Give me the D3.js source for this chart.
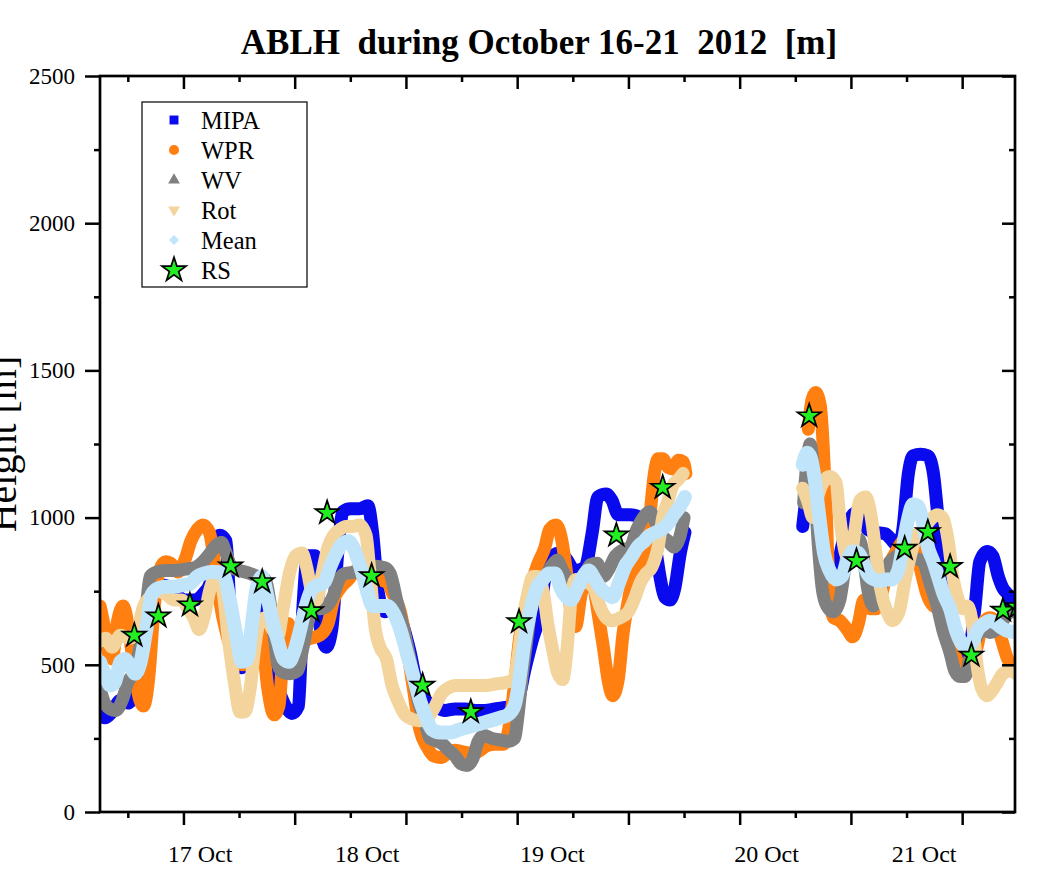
<!DOCTYPE html>
<html>
<head>
<meta charset="utf-8">
<title>ABLH during October 16-21 2012</title>
<script src="https://cdn.jsdelivr.net/npm/d3@7"></script>
<style>
  body { margin: 0; background: #fff; }
  svg text { font-family: "Liberation Serif", "Times New Roman", serif; fill: #000; }
</style>
</head>
<body>
<svg id="chart" width="1050" height="871"></svg>
<script>
// x: hours from the left edge of the plot, y: boundary layer height [m]
// [69, null] marks the data gap on 20 Oct
var mipa = [[0.0,330],[0.5,320],[1.3,340],[2.2,380],[3.0,370],[3.9,400],[4.6,420],[5.4,650],[6.0,760],[7.0,770],[8.1,740],[9.2,720],[10.2,720],[11.1,740],[11.9,780],[12.4,900],[12.9,940],[13.6,920],[14.0,700],[14.6,520],[15.3,490],[16.7,650],[17.5,700],[18.3,500],[19.2,420],[20.0,360],[20.7,335],[21.4,360],[21.9,700],[22.4,870],[23.2,870],[23.7,640],[24.4,560],[25.0,620],[25.7,900],[26.2,1020],[27.0,1030],[28.0,1030],[28.9,1040],[29.4,950],[30.0,750],[30.7,680],[31.5,700],[32.4,660],[33.4,550],[34.3,420],[35.1,380],[36.1,360],[37.2,345],[38.3,350],[39.4,350],[40.5,345],[41.5,345],[42.6,350],[43.7,355],[44.4,360],[45.1,380],[45.8,480],[46.6,580],[47.5,680],[48.1,820],[48.8,870],[49.6,880],[50.3,860],[51.2,820],[52.3,830],[53.1,950],[53.7,1070],[54.6,1080],[55.2,1060],[55.9,1010],[57.2,1010],[58.3,1000],[59.1,980],[59.9,900],[60.4,800],[60.9,730],[61.5,720],[62.0,760],[62.6,880],[63.1,950],
  [69,null],
  [75.8,970],[76.6,1120],[77.1,1100],[77.7,900],[78.2,800],[78.7,760],[79.4,800],[80.0,900],[80.7,980],[81.2,1010],[81.8,1020],[82.3,1000],[82.8,960],[83.6,950],[84.7,945],[85.5,920],[86.1,900],[86.6,960],[87.2,1150],[87.7,1210],[88.5,1215],[89.3,1210],[89.9,1150],[90.4,1000],[90.9,850],[91.7,700],[92.4,570],[93.1,540],[93.8,560],[94.4,700],[94.9,850],[95.7,885],[96.3,870],[96.9,800],[97.4,760],[97.9,740],[98.5,700],[98.8,680]];

var wpr = [[0.0,700],[0.4,640],[0.9,540],[1.3,520],[1.9,650],[2.5,700],[3.0,640],[3.7,480],[4.3,380],[4.7,360],[5.3,470],[5.8,680],[6.4,820],[7.1,850],[7.8,840],[8.4,815],[9.2,860],[9.8,920],[10.5,960],[11.1,975],[11.8,950],[12.3,860],[12.9,720],[13.7,600],[14.6,520],[15.4,500],[16.2,560],[16.9,640],[17.6,560],[18.1,420],[18.8,330],[19.3,360],[19.8,560],[20.3,640],[20.8,590],[21.6,580],[22.7,590],[23.7,600],[24.6,640],[25.2,720],[25.9,760],[26.8,790],[27.6,820],[28.6,830],[29.4,820],[30.2,790],[31.0,780],[31.6,740],[32.4,680],[33.1,560],[33.8,420],[34.5,280],[35.3,220],[36.0,190],[36.8,185],[37.5,200],[38.3,210],[39.0,205],[39.9,200],[40.8,205],[41.7,225],[42.6,230],[43.5,230],[44.2,300],[44.8,460],[45.3,600],[46.0,700],[46.6,780],[47.2,840],[48.0,900],[48.5,960],[49.2,975],[49.7,940],[50.3,820],[50.8,680],[51.3,630],[51.9,740],[52.5,790],[53.2,770],[53.7,680],[54.3,560],[54.8,450],[55.3,395],[55.9,450],[56.4,600],[57.0,720],[57.5,800],[58.1,840],[58.8,860],[59.3,1000],[59.8,1150],[60.2,1200],[60.7,1200],[61.3,1170],[61.8,1165],[62.4,1195],[62.9,1190],[63.2,1150],
  [69,null],
  [76.4,1300],[76.8,1400],[77.2,1425],[77.7,1380],[78.0,1250],[78.3,1050],[78.6,800],[79.1,660],[79.8,650],[80.6,620],[81.2,595],[81.8,640],[82.4,720],[83.1,690],[83.7,690],[84.4,750],[85.0,830],[85.8,880],[86.6,920],[87.4,930],[88.1,880],[88.7,800],[89.2,740],[89.9,700],[90.6,690],[91.4,640],[92.0,560],[92.6,500],[93.1,470],[93.8,480],[94.6,560],[95.2,640],[96.0,660],[96.7,640],[97.3,580],[97.9,520],[98.5,500],[98.8,500]];

var wv = [[0.0,420],[0.5,370],[1.1,350],[1.7,345],[2.4,380],[3.0,440],[3.7,480],[4.3,560],[5.0,700],[5.4,800],[6.1,815],[7.0,820],[8.1,820],[9.2,825],[10.2,830],[11.1,850],[11.9,880],[12.5,905],[13.1,915],[13.6,880],[14.2,830],[15.1,820],[16.2,810],[17.0,800],[17.8,790],[18.3,720],[18.8,600],[19.2,500],[19.7,475],[20.5,470],[21.3,480],[21.9,560],[22.4,640],[23.0,700],[23.7,690],[24.5,700],[25.1,730],[25.8,790],[26.4,810],[27.5,815],[28.6,825],[29.7,835],[30.7,830],[31.3,810],[32.0,720],[32.9,600],[33.7,480],[34.3,380],[35.0,310],[35.6,250],[36.4,240],[37.0,230],[37.6,210],[38.3,190],[38.9,165],[39.6,158],[40.2,180],[40.8,240],[41.4,260],[42.3,250],[43.1,245],[44.0,240],[44.7,250],[45.1,330],[45.5,450],[46.1,600],[46.6,720],[47.1,780],[48.0,800],[48.8,840],[49.3,855],[49.9,820],[50.7,780],[51.5,770],[52.2,800],[52.9,840],[53.6,845],[54.3,800],[54.8,820],[55.6,870],[56.4,890],[57.2,900],[57.9,960],[58.6,1000],[59.3,1020],[60.0,980],[60.6,940],[61.3,920],[61.9,900],[62.5,930],[63.0,1000],
  [69,null],
  [75.9,1050],[76.3,1200],[76.6,1250],[77.0,1150],[77.5,900],[77.9,760],[78.4,700],[79.1,680],[79.8,720],[80.5,860],[81.1,920],[81.8,930],[82.3,880],[82.8,760],[83.4,700],[83.9,720],[84.6,800],[85.2,850],[86.0,870],[86.6,880],[87.4,870],[88.1,860],[88.8,850],[89.5,780],[90.3,700],[90.9,620],[91.7,540],[92.2,480],[92.8,460],[93.3,460],[93.8,520],[94.5,590],[95.2,620],[96.0,610],[96.7,620],[97.4,650],[98.2,680],[98.8,680]];

var rot = [[0.0,580],[0.6,590],[1.3,560],[2.2,600],[3.2,590],[4.1,620],[4.6,690],[5.4,730],[6.3,750],[7.1,740],[8.0,720],[8.8,720],[9.5,690],[10.1,660],[10.7,620],[11.2,660],[11.9,760],[12.5,800],[13.2,760],[13.8,600],[14.5,440],[15.1,340],[15.6,340],[16.2,420],[16.7,560],[17.3,650],[17.9,660],[18.6,620],[19.2,600],[19.8,700],[20.5,820],[21.1,870],[21.8,880],[22.3,830],[22.9,740],[23.4,720],[23.9,800],[24.6,900],[25.2,940],[25.9,960],[26.5,970],[27.3,970],[28.0,975],[28.7,940],[29.1,820],[29.7,620],[30.2,560],[30.9,520],[31.5,430],[32.1,380],[32.9,330],[33.7,315],[34.5,310],[35.3,320],[36.0,350],[36.8,400],[37.5,420],[38.4,430],[39.5,430],[40.6,430],[41.6,430],[42.7,435],[43.8,440],[44.6,450],[45.1,530],[45.6,650],[46.2,750],[46.7,800],[47.2,800],[47.8,750],[48.3,640],[48.9,540],[49.4,470],[49.9,450],[50.4,560],[50.8,720],[51.3,790],[52.0,790],[52.6,780],[53.3,760],[53.9,700],[54.6,660],[55.2,650],[56.1,660],[57.0,680],[57.6,720],[58.3,780],[58.9,810],[59.5,830],[60.2,900],[60.7,1000],[61.3,1060],[61.8,1110],[62.4,1130],[62.9,1150],
  [69,null],
  [75.8,1100],[76.4,1050],[76.9,1000],[77.5,1080],[78.0,1120],[78.7,1140],[79.4,1120],[79.8,1000],[80.4,880],[80.9,850],[81.4,950],[82.0,1060],[82.6,1070],[83.2,1000],[83.7,880],[84.2,760],[84.9,680],[85.5,650],[86.2,680],[86.8,780],[87.5,880],[88.1,940],[88.8,960],[89.5,990],[90.3,1010],[90.9,1000],[91.5,920],[92.0,800],[92.6,720],[93.1,690],[93.6,700],[94.1,640],[94.6,500],[95.1,420],[95.7,395],[96.2,410],[96.8,440],[97.4,470],[98.2,480],[98.8,470]];

var mean = [[0.0,510],[0.5,470],[1.1,430],[1.6,440],[2.2,510],[2.7,520],[3.2,500],[3.8,470],[4.3,500],[5.0,620],[5.6,740],[6.3,760],[7.1,765],[8.0,765],[8.8,770],[9.7,775],[10.5,800],[11.2,810],[12.0,815],[12.7,815],[13.4,800],[14.0,720],[14.7,600],[15.3,510],[15.9,520],[16.4,640],[16.9,760],[17.5,800],[18.0,740],[18.6,650],[19.2,580],[19.8,520],[20.4,510],[20.9,540],[21.6,620],[22.2,700],[22.9,760],[23.5,770],[24.2,780],[24.8,830],[25.5,880],[26.1,910],[26.8,920],[27.3,900],[27.8,860],[28.4,800],[28.9,740],[29.4,700],[30.2,700],[31.0,700],[31.6,680],[32.4,620],[33.1,540],[33.9,450],[34.5,380],[35.2,320],[35.8,280],[36.7,270],[37.8,270],[38.8,280],[39.9,290],[41.0,300],[42.1,310],[43.1,320],[44.0,330],[44.7,360],[45.2,440],[45.7,560],[46.4,680],[47.1,760],[47.8,790],[48.4,810],[49.1,810],[49.7,760],[50.3,730],[50.8,720],[51.5,760],[52.1,800],[52.7,820],[53.4,790],[54.0,760],[54.7,740],[55.3,730],[56.0,780],[56.6,830],[57.4,870],[58.0,900],[58.7,920],[59.3,940],[60.0,950],[60.6,960],[61.3,980],[61.9,1010],[62.6,1040],[63.1,1070],
  [69,null],
  [75.8,1180],[76.3,1220],[76.7,1200],[77.1,1130],[77.6,1000],[78.1,880],[78.7,820],[79.4,790],[80.0,800],[80.7,860],[81.2,885],[81.8,880],[82.3,850],[82.8,810],[83.5,790],[84.1,785],[84.8,790],[85.4,790],[86.1,820],[86.6,900],[87.2,1000],[87.7,1045],[88.2,1040],[88.8,980],[89.3,900],[89.9,850],[90.4,800],[91.0,740],[91.7,690],[92.3,620],[93.0,570],[93.5,555],[94.1,580],[94.7,620],[95.4,640],[96.0,650],[96.7,640],[97.3,625],[97.9,615],[98.8,610]];

// radiosonde soundings
var rs = [[3.7,600],[6.3,665],[9.7,703],[14.1,835],[17.5,782],[22.8,683],[24.5,1016],[29.3,802],[34.8,430],[40.0,340],[45.2,646],[55.7,940],[60.7,1102],[76.5,1345],[81.6,853],[86.8,895],[89.3,951],[91.7,833],[94.0,532],[97.4,685],[99.0,697]];

var dayLabels = ["17 Oct", "18 Oct", "19 Oct", "20 Oct", "21 Oct"];
var dayHours = [10.8, 28.8, 48.8, 71.9, 88.9];
var xMajor = [9, 21, 33, 45, 57, 69, 81, 93];
var xMinor = [3, 15, 27, 39, 51, 63, 75, 87];
var yMajor = [0, 500, 1000, 1500, 2000, 2500];
var yMinor = [250, 750, 1250, 1750, 2250];

var svg = d3.select("#chart");
var plotL = 100, plotR = 1015, plotT = 76, plotB = 812;
var x = d3.scaleLinear().domain([0, 98.7]).range([plotL, plotR]);
var y = d3.scaleLinear().domain([0, 2500]).range([plotB, plotT]);

var series = [
  {name: "MIPA", data: mipa, color: "#0a0aee", width: 13, symbol: d3.symbolSquare, size: 80, rot: 0},
  {name: "WPR", data: wpr, color: "#ff7f10", width: 13, symbol: d3.symbolCircle, size: 80, rot: 0},
  {name: "WV", data: wv, color: "#808080", width: 13, symbol: d3.symbolTriangle, size: 60, rot: 0},
  {name: "Rot", data: rot, color: "#f2d49c", width: 13, symbol: d3.symbolTriangle, size: 60, rot: 180},
  {name: "Mean", data: mean, color: "#c0e4fa", width: 14, symbol: d3.symbolSquare, size: 50, rot: 45}
];

svg.append("defs").append("clipPath").attr("id", "plotclip")
  .append("rect").attr("x", plotL).attr("y", plotT)
  .attr("width", plotR - plotL).attr("height", plotB - plotT);

var line = d3.line()
  .defined(function(d){ return d[1] != null; })
  .x(function(d){ return x(d[0]); })
  .y(function(d){ return y(d[1]); })
  .curve(d3.curveMonotoneX);

var plot = svg.append("g").attr("clip-path", "url(#plotclip)");
plot.selectAll("path.series").data(series).join("path")
  .attr("class", "series")
  .attr("fill", "none")
  .attr("stroke", function(d){ return d.color; })
  .attr("stroke-width", function(d){ return d.width; })
  .attr("stroke-linejoin", "round")
  .attr("stroke-linecap", "round")
  .attr("d", function(d){ return line(d.data); });

var star = d3.symbol(d3.symbolStar, 170);
plot.selectAll("path.rs").data(rs).join("path")
  .attr("class", "rs")
  .attr("transform", function(d){ return "translate(" + x(d[0]) + "," + y(d[1]) + ")"; })
  .attr("d", star)
  .attr("fill", "#22ee22").attr("stroke", "#000").attr("stroke-width", 1.7);

// axes: ticks only, the frame is drawn as one rect
function ticks(g, axis, fs) {
  g.call(axis);
  g.select(".domain").remove();
  g.attr("font-family", null).attr("font-size", fs || null);
  g.selectAll(".tick line").attr("stroke", "#000").attr("stroke-width", 2.5);
}
svg.append("g").attr("transform", "translate(0," + plotB + ")")
  .call(ticks, d3.axisBottom(x).tickValues(xMajor).tickSize(13).tickFormat(""));
svg.append("g").attr("transform", "translate(0," + plotB + ")")
  .call(ticks, d3.axisBottom(x).tickValues(xMinor).tickSize(6).tickFormat(""));
svg.append("g").attr("transform", "translate(0," + plotT + ")")
  .call(ticks, d3.axisBottom(x).tickValues(xMajor).tickSize(13).tickFormat(""));
svg.append("g").attr("transform", "translate(0," + plotT + ")")
  .call(ticks, d3.axisBottom(x).tickValues(xMinor).tickSize(6).tickFormat(""));
svg.append("g").attr("transform", "translate(" + plotL + ",0)")
  .call(ticks, d3.axisLeft(y).tickValues(yMajor).tickSize(15).tickPadding(10).tickFormat(d3.format("d")), 23);
svg.append("g").attr("transform", "translate(" + plotL + ",0)")
  .call(ticks, d3.axisLeft(y).tickValues(yMinor).tickSize(6).tickFormat(""));
svg.append("g").attr("transform", "translate(" + plotR + ",0)")
  .call(ticks, d3.axisLeft(y).tickValues(yMajor).tickSize(13).tickFormat(""));
svg.append("g").attr("transform", "translate(" + plotR + ",0)")
  .call(ticks, d3.axisLeft(y).tickValues(yMinor).tickSize(6).tickFormat(""));

svg.append("rect")
  .attr("x", plotL).attr("y", plotT)
  .attr("width", plotR - plotL).attr("height", plotB - plotT)
  .attr("fill", "none").attr("stroke", "#000").attr("stroke-width", 2.7);

svg.selectAll("text.day").data(dayLabels).join("text")
  .attr("class", "day")
  .attr("x", function(d, i){ return x(dayHours[i]); })
  .attr("y", 862)
  .attr("text-anchor", "middle")
  .attr("font-size", 24)
  .text(function(d){ return d; });

svg.append("text")
  .attr("x", 539).attr("y", 54)
  .attr("text-anchor", "middle")
  .attr("font-size", 35).attr("font-weight", "bold")
  .style("white-space", "pre")
  .text("ABLH  during October 16-21  2012  [m]");

svg.append("text")
  .attr("transform", "translate(16,444) rotate(-90)")
  .attr("text-anchor", "middle")
  .attr("font-size", 40)
  .text("Height [m]");

// legend
var legend = svg.append("g");
legend.append("rect")
  .attr("x", 142).attr("y", 102).attr("width", 165).attr("height", 185)
  .attr("fill", "#fff").attr("stroke", "#000").attr("stroke-width", 1.2);
var entries = series.concat([{name: "RS", symbol: d3.symbolStar, size: 180, rot: 0, color: "#22ee22", stroke: "#000"}]);
var rows = legend.selectAll("g.entry").data(entries).join("g")
  .attr("class", "entry")
  .attr("transform", function(d, i){ return "translate(174," + (120 + i * 30) + ")"; });
rows.append("path")
  .attr("transform", function(d){ return "rotate(" + d.rot + ")"; })
  .attr("d", function(d){ return d3.symbol(d.symbol, d.size)(); })
  .attr("fill", function(d){ return d.color; })
  .attr("stroke", function(d){ return d.stroke || "none"; })
  .attr("stroke-width", 1.7);
rows.append("text")
  .attr("x", 27).attr("dy", "0.35em")
  .attr("font-size", 24.5)
  .text(function(d){ return d.name; });
</script>
</body>
</html>
